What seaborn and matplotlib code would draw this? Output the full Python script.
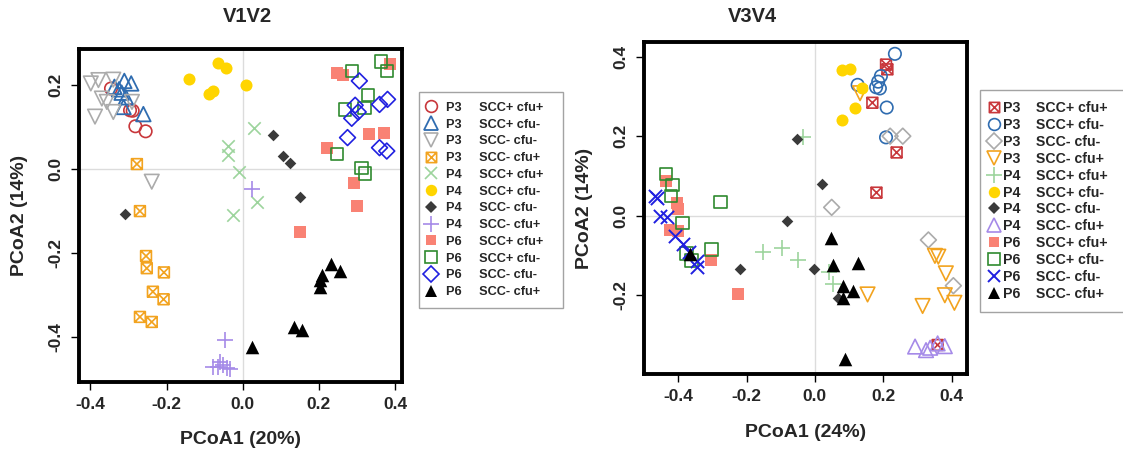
import matplotlib
matplotlib.use("Agg")
import matplotlib.pyplot as plt
import seaborn as sns
import pandas as pd
from matplotlib.path import Path
from matplotlib.lines import Line2D

# ---------------- data ----------------
PATIENTS = ["P3", "P3", "P3", "P3", "P4", "P4", "P4", "P4", "P6", "P6", "P6", "P6"]
STATUS_V12 = ["SCC+ cfu+", "SCC+ cfu-", "SCC- cfu-", "SCC- cfu+",
              "SCC+ cfu+", "SCC+ cfu-", "SCC- cfu-", "SCC- cfu+",
              "SCC+ cfu+", "SCC+ cfu-", "SCC- cfu-", "SCC- cfu+"]
STATUS_V34 = ["SCC+ cfu+", "SCC+ cfu-", "SCC- cfu-", "SCC- cfu+",
              "SCC+ cfu+", "SCC+ cfu-", "SCC- cfu-", "SCC- cfu+",
              "SCC+ cfu+", "SCC+ cfu-", "SCC- cfu-", "SCC- cfu+"]

# V1V2 panel
v12_p3_pp_x = [-0.346, -0.296, -0.289, -0.282, -0.255]
v12_p3_pp_y = [0.192, 0.140, 0.139, 0.102, 0.090]
v12_p3_pm_x = [-0.337, -0.311, -0.293, -0.318, -0.307, -0.313, -0.261, -0.325]
v12_p3_pm_y = [0.196, 0.210, 0.204, 0.182, 0.171, 0.148, 0.131, 0.190]
v12_p3_mm_x = [-0.399, -0.379, -0.340, -0.370, -0.357, -0.388, -0.340, -0.291, -0.239]
v12_p3_mm_y = [0.204, 0.212, 0.213, 0.168, 0.160, 0.125, 0.136, 0.160, -0.030]
v12_p3_mp_x = [-0.278, -0.270, -0.254, -0.252, -0.207, -0.236, -0.208, -0.270, -0.239]
v12_p3_mp_y = [0.012, -0.100, -0.207, -0.236, -0.246, -0.292, -0.310, -0.352, -0.364]
v12_p4_pp_x = [0.030, -0.038, -0.038, -0.010, 0.038, -0.025]
v12_p4_pp_y = [0.098, 0.055, 0.033, -0.006, -0.078, -0.110]
v12_p4_pm_x = [-0.141, -0.064, -0.045, -0.090, -0.077, 0.009]
v12_p4_pm_y = [0.214, 0.252, 0.241, 0.178, 0.186, 0.200]
v12_p4_mm_x = [0.079, 0.105, 0.124, 0.149, -0.309]
v12_p4_mm_y = [0.081, 0.032, 0.014, -0.066, -0.108]
v12_p4_mp_x = [0.024, -0.046, -0.077, -0.064, -0.053, -0.042, -0.033, -0.060]
v12_p4_mp_y = [-0.048, -0.407, -0.472, -0.471, -0.467, -0.473, -0.475, -0.459]
v12_p6_pp_x = [0.247, 0.262, 0.387, 0.332, 0.371, 0.220, 0.292, 0.301, 0.150]
v12_p6_pp_y = [0.230, 0.224, 0.250, 0.083, 0.087, 0.051, -0.034, -0.087, -0.149]
v12_p6_pm_x = [0.286, 0.363, 0.378, 0.328, 0.268, 0.319, 0.248, 0.312, 0.321]
v12_p6_pm_y = [0.233, 0.256, 0.233, 0.176, 0.142, 0.146, 0.036, 0.002, -0.010]
v12_p6_mm_x = [0.306, 0.295, 0.286, 0.303, 0.359, 0.380, 0.275, 0.359, 0.378]
v12_p6_mm_y = [0.210, 0.152, 0.121, 0.136, 0.154, 0.166, 0.075, 0.051, 0.043]
v12_p6_mp_x = [0.232, 0.255, 0.207, 0.203, 0.203, 0.135, 0.155, 0.024]
v12_p6_mp_y = [-0.225, -0.242, -0.252, -0.264, -0.280, -0.375, -0.383, -0.423]

# V3V4 panel
v34_p3_pp_x = [0.208, 0.212, 0.168, 0.239, 0.180, 0.359]
v34_p3_pp_y = [0.380, 0.368, 0.284, 0.159, 0.058, -0.325]
v34_p3_pm_x = [0.234, 0.125, 0.193, 0.185, 0.190, 0.179, 0.210, 0.208]
v34_p3_pm_y = [0.407, 0.329, 0.351, 0.337, 0.320, 0.323, 0.272, 0.197]
v34_p3_mm_x = [0.220, 0.257, 0.049, 0.332, 0.405]
v34_p3_mm_y = [0.200, 0.200, 0.021, -0.061, -0.176]
v34_p3_mp_x = [0.132, 0.351, 0.361, 0.383, 0.380, 0.408, 0.315, 0.154]
v34_p3_mp_y = [0.308, -0.101, -0.103, -0.145, -0.200, -0.219, -0.227, -0.198]
v34_p4_pp_x = [-0.036, -0.151, -0.095, -0.049, 0.042, 0.052]
v34_p4_pp_y = [0.199, -0.091, -0.082, -0.111, -0.141, -0.172]
v34_p4_pm_x = [0.078, 0.104, 0.137, 0.117, 0.080]
v34_p4_pm_y = [0.366, 0.368, 0.322, 0.272, 0.241]
v34_p4_mm_x = [-0.052, 0.022, -0.083, -0.220, -0.002, 0.068]
v34_p4_mm_y = [0.194, 0.080, -0.013, -0.135, -0.133, -0.206]
v34_p4_mp_x = [0.293, 0.325, 0.337, 0.359, 0.380]
v34_p4_mp_y = [-0.329, -0.338, -0.332, -0.321, -0.328]
v34_p6_pp_x = [-0.436, -0.403, -0.400, -0.424, -0.400, -0.304, -0.224]
v34_p6_pp_y = [0.087, 0.031, 0.018, -0.036, -0.038, -0.111, -0.197]
v34_p6_pm_x = [-0.436, -0.417, -0.421, -0.387, -0.276, -0.376, -0.361, -0.302]
v34_p6_pm_y = [0.105, 0.077, 0.049, -0.019, 0.034, -0.095, -0.113, -0.085]
v34_p6_mm_x = [-0.468, -0.463, -0.454, -0.434, -0.410, -0.385, -0.368, -0.346, -0.344]
v34_p6_mm_y = [0.049, 0.044, -0.001, -0.003, -0.050, -0.071, -0.091, -0.113, -0.128]
v34_p6_mp_x = [0.046, 0.052, 0.125, 0.081, 0.110, 0.081, 0.088, -0.366]
v34_p6_mp_y = [-0.057, -0.124, -0.120, -0.176, -0.189, -0.206, -0.361, -0.096]

V12_X = [v12_p3_pp_x, v12_p3_pm_x, v12_p3_mm_x, v12_p3_mp_x, v12_p4_pp_x, v12_p4_pm_x,
         v12_p4_mm_x, v12_p4_mp_x, v12_p6_pp_x, v12_p6_pm_x, v12_p6_mm_x, v12_p6_mp_x]
V12_Y = [v12_p3_pp_y, v12_p3_pm_y, v12_p3_mm_y, v12_p3_mp_y, v12_p4_pp_y, v12_p4_pm_y,
         v12_p4_mm_y, v12_p4_mp_y, v12_p6_pp_y, v12_p6_pm_y, v12_p6_mm_y, v12_p6_mp_y]
V34_X = [v34_p3_pp_x, v34_p3_pm_x, v34_p3_mm_x, v34_p3_mp_x, v34_p4_pp_x, v34_p4_pm_x,
         v34_p4_mm_x, v34_p4_mp_x, v34_p6_pp_x, v34_p6_pm_x, v34_p6_mm_x, v34_p6_mp_x]
V34_Y = [v34_p3_pp_y, v34_p3_pm_y, v34_p3_mm_y, v34_p3_mp_y, v34_p4_pp_y, v34_p4_pm_y,
         v34_p4_mm_y, v34_p4_mp_y, v34_p6_pp_y, v34_p6_pm_y, v34_p6_mm_y, v34_p6_mp_y]

TICKS_X = [-0.4, -0.2, 0.0, 0.2, 0.4]
TICKS_Y_V12 = [-0.4, -0.2, 0.0, 0.2]
TICKS_Y_V34 = [-0.2, 0.0, 0.2, 0.4]

# ---------------- styles ----------------
BOXX = Path([(-1, -1), (1, -1), (1, 1), (-1, 1), (-1, -1),
             (-1, -1), (1, 1), (-1, 1), (1, -1)],
            [Path.MOVETO, Path.LINETO, Path.LINETO, Path.LINETO, Path.CLOSEPOLY,
             Path.MOVETO, Path.LINETO, Path.MOVETO, Path.LINETO])

RED = "#C8373B"
BLUE = "#2F6CB0"
GREY = "#ABABAB"
ORANGE = "#F2A31F"
LGREEN = "#9DD49D"
GOLD = "#FFD500"
DARK = "#3A3A3A"
PURPLE = "#A58AE8"
SALMON = "#F98274"
GREEN = "#2F8A2F"
VBLUE = "#2020E0"
BLACK = "#000000"

# (marker, color, filled, size, lw)
STY_V12 = [("o", RED, False, 80, 1.2), ("^", BLUE, False, 110, 1.3),
           ("v", GREY, False, 110, 1.2), (BOXX, ORANGE, False, 60, 1.2),
           ("x", LGREEN, False, 80, 1.2), ("o", GOLD, True, 75, 0),
           ("D", DARK, True, 35, 0), ("+", PURPLE, False, 130, 1.2),
           ("s", SALMON, True, 65, 0), ("s", GREEN, False, 80, 1.2),
           ("D", VBLUE, False, 65, 1.2), ("^", BLACK, True, 95, 0)]
STY_V34 = [(BOXX, RED, False, 60, 1.2), ("o", BLUE, False, 80, 1.2),
           ("D", GREY, False, 65, 1.2), ("v", ORANGE, False, 110, 1.2),
           ("+", LGREEN, False, 130, 1.2), ("o", GOLD, True, 75, 0),
           ("D", DARK, True, 35, 0), ("^", PURPLE, False, 110, 1.2),
           ("s", SALMON, True, 65, 0), ("s", GREEN, False, 80, 1.2),
           ("x", VBLUE, False, 90, 1.4), ("^", BLACK, True, 95, 0)]

sns.set_theme(style="white")
plt.rcParams["font.family"] = ["Liberation Sans", "DejaVu Sans"]
plt.rcParams["font.weight"] = "bold"
plt.rcParams["axes.labelweight"] = "bold"

fig = plt.figure(figsize=(11.23, 4.49), dpi=100)
ax1 = fig.add_axes([79 / 1123, 1 - 382 / 449, 323 / 1123, 333 / 449])
ax2 = fig.add_axes([644 / 1123, 1 - 374 / 449, 322.7 / 1123, 331.7 / 449])


def build_df(xs, ys):
    rows = []
    for i, (gx, gy) in enumerate(zip(xs, ys)):
        for a, b in zip(gx, gy):
            rows.append({"x": a, "y": b, "group": i})
    return pd.DataFrame(rows)


def draw(ax, df, styles, xlim, ylim, yticks, xlabel, ylabel):
    ax.axhline(0, color="#DCDCDC", lw=1, zorder=0)
    ax.axvline(0, color="#DCDCDC", lw=1, zorder=0)
    for i, (m, c, filled, s, lw) in enumerate(styles):
        sub = df[df["group"] == i]
        if filled:
            sns.scatterplot(data=sub, x="x", y="y", ax=ax, marker=m, color=c,
                            s=s, linewidth=0, edgecolor=c, legend=False, zorder=3)
        elif m in ("x", "+"):
            sns.scatterplot(data=sub, x="x", y="y", ax=ax, marker=m, color=c,
                            s=s, linewidth=lw, legend=False, zorder=3)
        else:
            sns.scatterplot(data=sub, x="x", y="y", ax=ax, marker=m, color=c,
                            facecolors="none", edgecolor=c, s=s, linewidth=lw,
                            legend=False, zorder=3)
    ax.set_xlim(*xlim)
    ax.set_ylim(*ylim)
    ax.set_xticks(TICKS_X)
    ax.set_xticklabels([f"{t:.1f}" for t in TICKS_X])
    ax.set_yticks(yticks)
    ax.set_yticklabels([f"{t:.1f}" for t in yticks], rotation=90, va="center")
    ax.tick_params(axis="both", which="both", direction="out", length=6, width=1,
                   color="black", labelsize=12.5, bottom=True, left=True)
    ax.tick_params(axis="x", pad=5)
    ax.tick_params(axis="y", pad=5)
    for sp in ax.spines.values():
        sp.set_linewidth(2.8)
        sp.set_color("black")
    ax.set_xlabel(xlabel, fontsize=14, fontweight="bold")
    ax.set_ylabel(ylabel, fontsize=14, fontweight="bold")
    ax.grid(False)


def add_legend(ax, styles, status, x0, y0, fs, gap, tail, spacing, bpad, hlen, tpad):
    handles = []
    labels = []
    for i, (m, c, filled, s, lw) in enumerate(styles):
        ms = (s ** 0.5) * 0.95
        if filled:
            h = Line2D([], [], marker=m, linestyle="none", markerfacecolor=c,
                       markeredgecolor=c, markersize=ms, markeredgewidth=0)
        else:
            h = Line2D([], [], marker=m, linestyle="none", markerfacecolor="none",
                       markeredgecolor=c, markersize=ms, markeredgewidth=lw)
        handles.append(h)
        labels.append(PATIENTS[i] + " " * gap + status[i] + " " * tail)
    leg = ax.legend(handles, labels, loc="upper left", bbox_to_anchor=(x0, y0),
                    bbox_transform=fig.transFigure, borderaxespad=0,
                    frameon=True, fancybox=False, edgecolor="#8C8C8C",
                    fontsize=fs, handlelength=hlen, handletextpad=tpad,
                    labelspacing=spacing, borderpad=bpad)
    leg.get_frame().set_linewidth(1.0)
    for t in leg.get_texts():
        t.set_fontweight("bold")
    return leg


df12 = build_df(V12_X, V12_Y)
df34 = build_df(V34_X, V34_Y)

draw(ax1, df12, STY_V12, (-0.430, 0.418), (-0.507, 0.286), TICKS_Y_V12,
     "PCoA1 (20%)", "PCoA2 (14%)")
draw(ax2, df34, STY_V34, (-0.500, 0.444), (-0.398, 0.436), TICKS_Y_V34,
     "PCoA1 (24%)", "PCoA2 (14%)")

ax1.xaxis.set_label_coords(0.5, -0.172)
ax1.xaxis.label.set_va("center")
ax1.yaxis.set_label_coords(-0.183, 0.5)
ax1.yaxis.label.set_va("center")
ax2.xaxis.set_label_coords(0.5, -0.175)
ax2.xaxis.label.set_va("center")
ax2.yaxis.set_label_coords(-0.183, 0.5)
ax2.yaxis.label.set_va("center")

fig.text(247 / 1123, 1 - 17 / 449, "V1V2", ha="center", va="center",
         fontsize=14.5, fontweight="bold")
fig.text(752 / 1123, 1 - 17 / 449, "V3V4", ha="center", va="center",
         fontsize=14.5, fontweight="bold")

add_legend(ax1, STY_V12, STATUS_V12, 419 / 1123, 1 - 92 / 449, 9.2, 5, 3,
           0.37, 0.78, 0.3, 1.0)
add_legend(ax2, STY_V34, STATUS_V34, 980 / 1123, 1 - 90 / 449, 10.2, 4, 2,
           0.2, 0.8, 0.4, 0.45)

fig.savefig("out.png", dpi=100)
